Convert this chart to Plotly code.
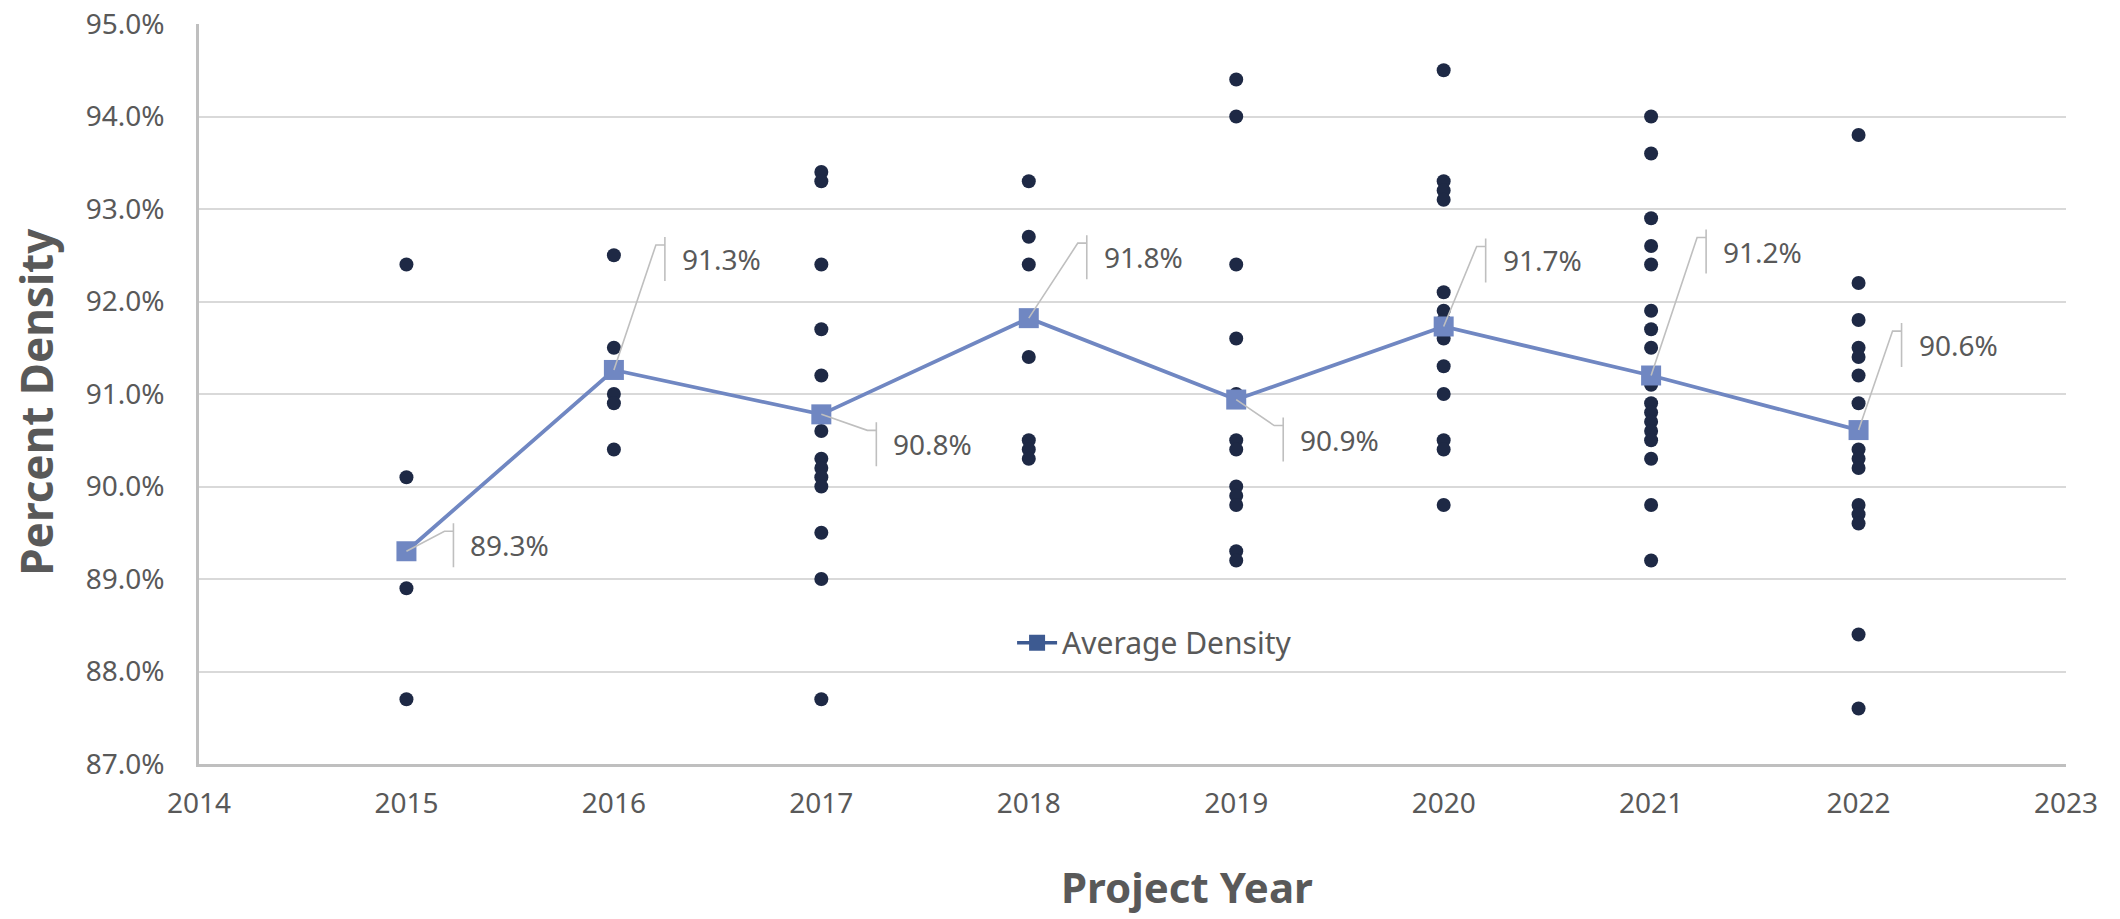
import plotly.graph_objects as go

# ---------------- data ----------------
YEARS = [2015, 2016, 2017, 2018, 2019, 2020, 2021, 2022]

D2015 = [92.4, 90.1, 88.9, 87.7]
D2016 = [92.5, 91.5, 91.0, 90.9, 90.4]
D2017 = [93.4, 93.3, 92.4, 91.7, 91.2, 90.8, 90.6, 90.3, 90.2, 90.1, 90.0, 89.5, 89.0, 87.7]
D2018 = [93.3, 92.7, 92.4, 91.4, 90.5, 90.4, 90.3]
D2019 = [94.4, 94.0, 92.4, 91.6, 91.0, 90.5, 90.4, 90.0, 89.9, 89.8, 89.3, 89.2]
D2020 = [94.5, 93.3, 93.2, 93.1, 92.1, 91.9, 91.8, 91.6, 91.3, 91.0, 90.5, 90.4, 89.8]
D2021 = [94.0, 93.6, 92.9, 92.6, 92.4, 91.9, 91.7, 91.5, 91.2, 91.1, 90.9, 90.8, 90.7,
         90.6, 90.5, 90.3, 89.8, 89.2]
D2022 = [93.8, 92.2, 91.8, 91.5, 91.4, 91.2, 90.9, 90.4, 90.3, 90.2, 89.8, 89.7, 89.6,
         88.4, 87.6]
PROJECTS = [D2015, D2016, D2017, D2018, D2019, D2020, D2021, D2022]

AVG_DENSITY = [89.3, 91.26, 90.78, 91.82, 90.94, 91.73, 91.20, 90.61]

Y_TICKS = [87, 88, 89, 90, 91, 92, 93, 94, 95]
X_TICKS = [2014, 2015, 2016, 2017, 2018, 2019, 2020, 2021, 2022, 2023]

SERIES_NAME = "Average Density"
X_TITLE = "Project Year"
Y_TITLE = "Percent Density"

# ---------------- label callout placement (pixels, layout only) ----------------
# (bar x offset, bar centre y offset; screen pixels, y down)
LABEL_OFFSETS = [(47, -6), (51, -111), (55, 30), (58, -61),
                 (47, 40), (42, -66), (55, -124), (43, -85)]

GREY_TEXT = "#595959"
FONT = "Noto Sans"

xs, ys = [], []
for yr, vals in zip(YEARS, PROJECTS):
    xs.extend([yr] * len(vals))
    ys.extend(vals)

fig = go.Figure()

fig.add_trace(go.Scatter(
    x=xs, y=ys, mode="markers", showlegend=False, hoverinfo="skip",
    marker=dict(color="#1e2945", size=14, line=dict(width=0)),
))

fig.add_trace(go.Scatter(
    x=YEARS, y=AVG_DENSITY, mode="lines+markers", showlegend=False, hoverinfo="skip",
    line=dict(color="#7087c2", width=3.8),
    marker=dict(symbol="square", size=20, color="#7087c2", line=dict(width=0)),
))

# legend-only entry (darker icon like the reference)
fig.add_trace(go.Scatter(
    x=[None], y=[None], mode="lines+markers", name=SERIES_NAME,
    line=dict(color="#3d5a91", width=3.5),
    marker=dict(symbol="square", size=18, color="#3d5a91"),
))

shapes = []
annotations = []
for yr, av, (bx, bcy) in zip(YEARS, AVG_DENSITY, LABEL_OFFSETS):
    top = bcy - 22
    bot = bcy + 22
    hy = top + 8
    path = f"M0,0 L{bx-9},{-hy} L{bx},{-hy} M{bx},{-top} L{bx},{-bot}"
    shapes.append(dict(
        type="path", xref="x", yref="y", xsizemode="pixel", ysizemode="pixel",
        xanchor=yr, yanchor=av, path=path,
        line=dict(color="#bfbfbf", width=1.6),
    ))
    annotations.append(dict(
        x=yr, y=av, xref="x", yref="y", text=f"{av:.1f}%", showarrow=False,
        xanchor="left", yanchor="middle", xshift=bx + 15, yshift=-bcy,
        font=dict(family=FONT, size=28, color=GREY_TEXT),
    ))

annotations.append(dict(
    x=0.529, y=-0.166, xref="paper", yref="paper", text=f"<b>{X_TITLE}</b>",
    showarrow=False, xanchor="center", yanchor="middle",
    font=dict(family=FONT, size=42, color=GREY_TEXT),
))
annotations.append(dict(
    x=-0.087, y=0.489, xref="paper", yref="paper", text=f"<b>{Y_TITLE}</b>",
    showarrow=False, xanchor="center", yanchor="middle", textangle=-90,
    font=dict(family=FONT, size=44, color=GREY_TEXT),
))

fig.update_layout(
    width=2120, height=919,
    margin=dict(l=199, r=54, t=24, b=155, pad=0, autoexpand=False),
    paper_bgcolor="white", plot_bgcolor="white",
    font=dict(family=FONT, color=GREY_TEXT),
    shapes=shapes, annotations=annotations,
    showlegend=True,
    legend=dict(
        x=0.4355, y=0.164, xanchor="left", yanchor="middle",
        bgcolor="rgba(0,0,0,0)", font=dict(family=FONT, size=30, color=GREY_TEXT),
        itemwidth=40,
    ),
    hovermode=False,
)

fig.update_xaxes(
    range=[2014, 2023], tickmode="array", tickvals=X_TICKS,
    ticktext=[str(t) for t in X_TICKS],
    showgrid=False, zeroline=False, automargin=False,
    showline=True, linecolor="#bfbfbf", linewidth=2.5,
    ticks="", ticklabelstandoff=13,
    tickfont=dict(family=FONT, size=28, color=GREY_TEXT),
)
fig.update_yaxes(
    range=[87, 95], tickmode="array", tickvals=Y_TICKS,
    ticktext=[f"{t:.1f}%" for t in Y_TICKS],
    showgrid=True, gridcolor="#d9d9d9", gridwidth=1.5, zeroline=False, automargin=False,
    showline=True, linecolor="#bfbfbf", linewidth=2.5,
    ticks="", ticklabelstandoff=26,
    tickfont=dict(family=FONT, size=28, color=GREY_TEXT),
)

fig.write_html(
    "out.html",
    config={"displayModeBar": False},
    post_script="document.body.style.margin='0';document.body.style.overflow='hidden';",
)
